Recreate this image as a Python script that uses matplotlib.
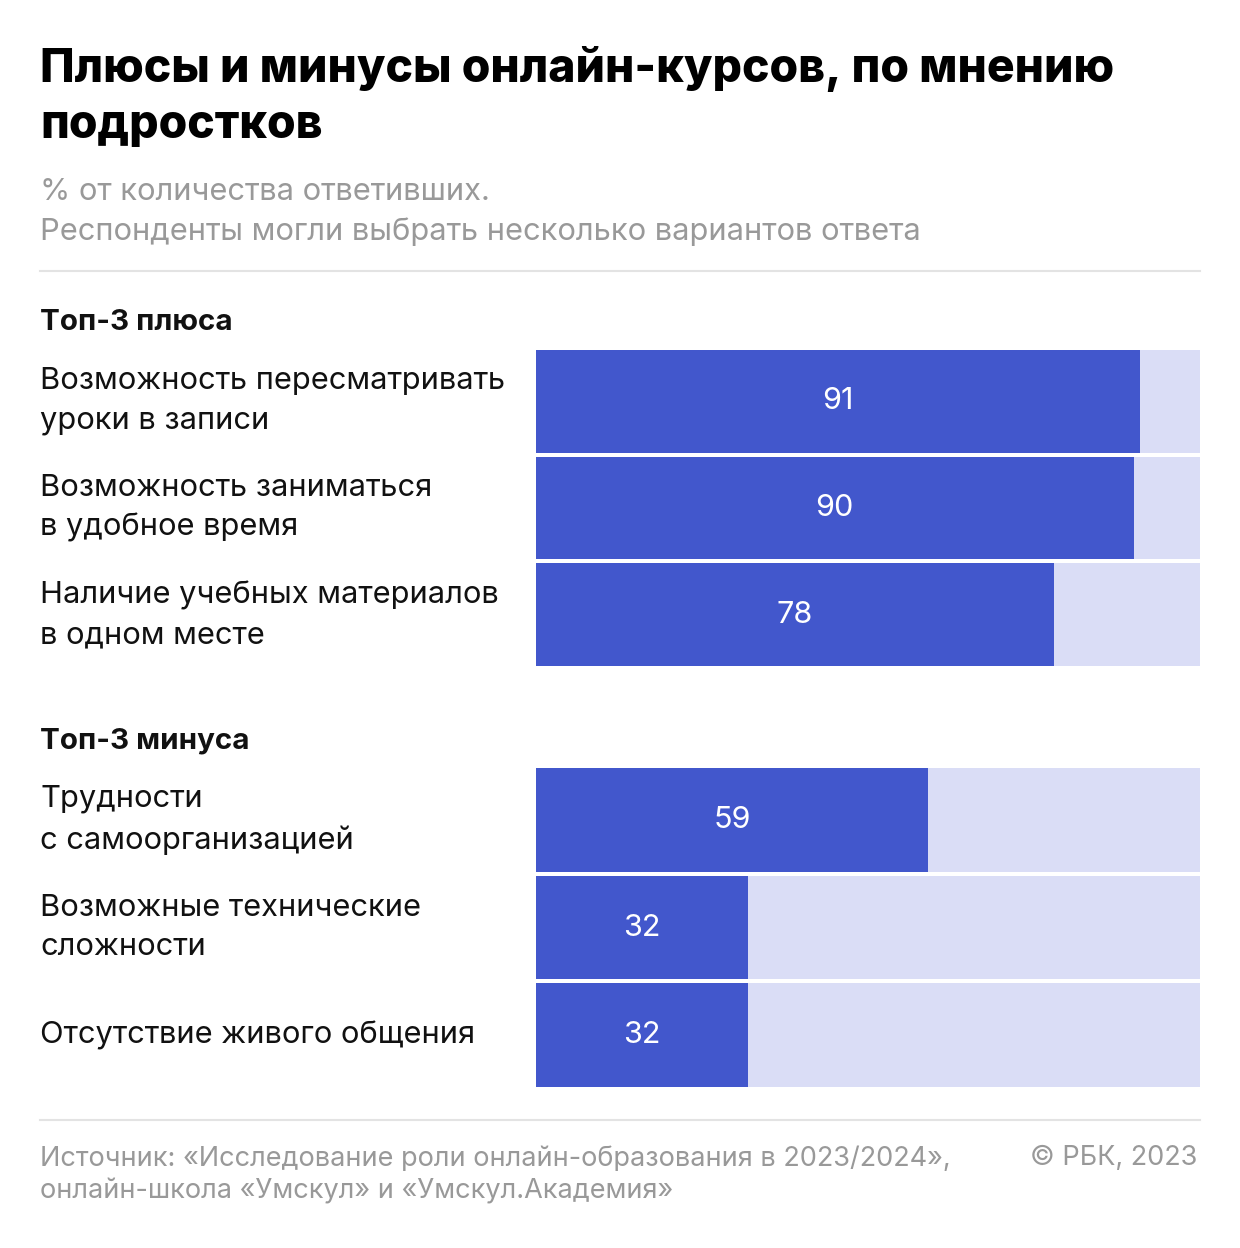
import matplotlib.pyplot as plt
import matplotlib.transforms as mtransforms

# данные
plus_labels = ["Возможность пересматривать\nуроки в записи",
               "Возможность заниматься\nв удобное время",
               "Наличие учебных материалов\nв одном месте"]
plus_values = [91, 90, 78]

minus_labels = ["Трудности\nс самоорганизацией",
                "Возможные технические\nсложности",
                "Отсутствие живого общения"]
minus_values = [59, 32, 32]

group_titles = ["Топ-3 плюса", "Топ-3 минуса"]

BLUE = "#4257CC"
LIGHT = "#DADDF6"
GREY = "#999999"
W, H = 1240, 1248

plt.rcParams['font.family'] = ['Inter', 'DejaVu Sans']

fig = plt.figure(figsize=(W / 100, H / 100), dpi=100)
fig.patch.set_facecolor("white")


def fx(px):
    return px / W


def fy(py):
    return 1 - py / H


# заголовок
fig.text(fx(40), fy(97), "Плюсы и минусы онлайн-курсов, по мнению\nподростков",
         fontsize=33.3, fontweight="heavy", color="black", va="center", ha="left",
         linespacing=1.34)
fig.text(fx(40), fy(212), "% от количества ответивших.\nРеспонденты могли выбрать несколько вариантов ответа",
         fontsize=22.2, color=GREY, va="center", ha="left", linespacing=1.48)

# разделители
for yy in [271, 1120]:
    fig.add_artist(plt.Line2D([fx(40), fx(1200)], [fy(yy), fy(yy)],
                              transform=fig.transFigure, color="#e3e3e3", lw=1.5))


def draw_group(top_px, bottom_px, title_y, title, labels, values):
    ax = fig.add_axes([fx(536), fy(bottom_px), fx(1200) - fx(536),
                       (bottom_px - top_px) / H])
    ys = list(range(len(values)))
    ax.barh(ys, [100] * len(values), height=0.96, color=LIGHT, edgecolor="none")
    ax.barh(ys, values, height=0.96, color=BLUE, edgecolor="none")
    ax.set_xlim(0, 100)
    ax.set_ylim(len(values) - 0.5, -0.5)
    ax.axis("off")
    for y, v in zip(ys, values):
        ax.text(v / 2, y, str(v), color="white", fontsize=22, ha="center", va="center")
    tr = mtransforms.blended_transform_factory(fig.transFigure, ax.transData)
    for y, lab in zip(ys, labels):
        fig.text(fx(40), y, lab, transform=tr, fontsize=22.2, color="#111111",
                 ha="left", va="center", linespacing=1.52)
    fig.text(fx(40), fy(title_y), title, fontsize=21.3, fontweight="bold",
             color="#111111", ha="left", va="center")


draw_group(348, 668, 322, group_titles[0], plus_labels, plus_values)
draw_group(766, 1089, 741, group_titles[1], minus_labels, minus_values)

# подвал
fig.text(fx(40), fy(1175),
         "Источник: «Исследование роли онлайн-образования в 2023/2024»,\nонлайн-школа «Умскул» и «Умскул.Академия»",
         fontsize=19.5, color=GREY, ha="left", va="center", linespacing=1.32)
fig.text(fx(1197), fy(1158), "© РБК, 2023", fontsize=19.5, color=GREY,
         ha="right", va="center")

fig.savefig("out.png", dpi=100, facecolor="white")
